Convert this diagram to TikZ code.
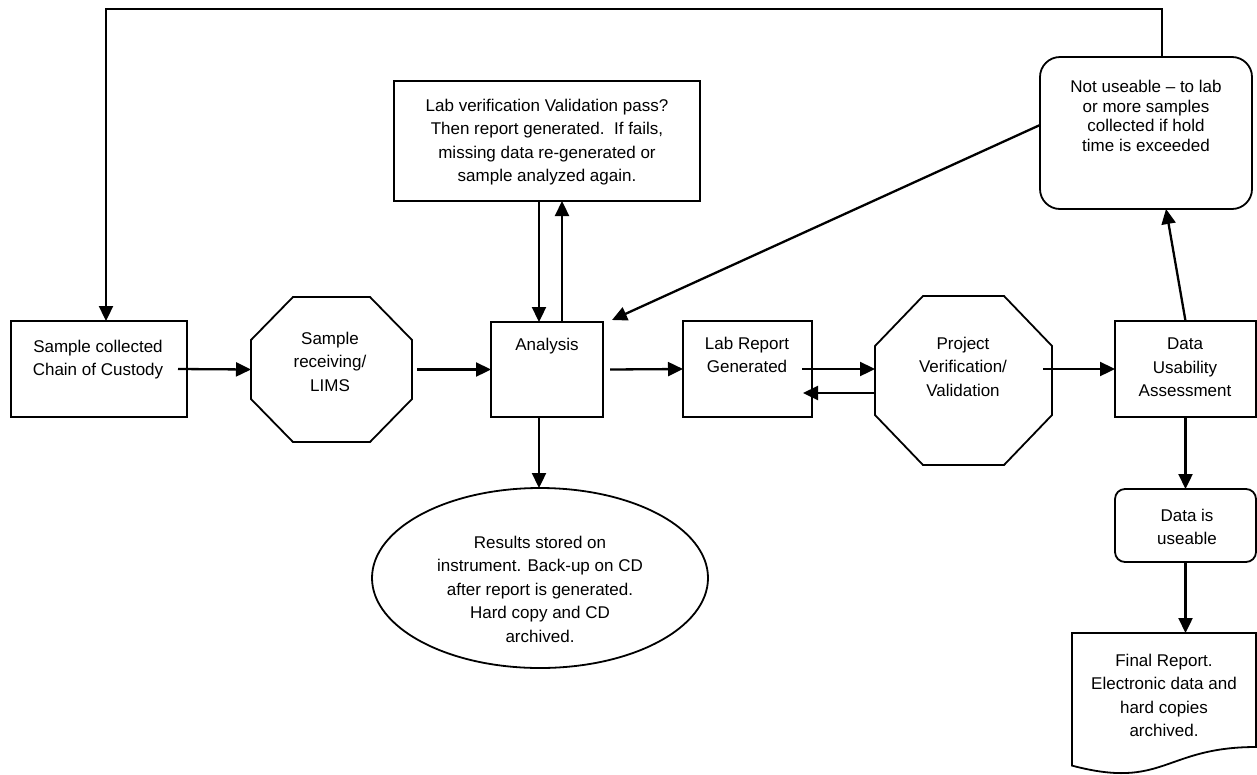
\documentclass[tikz,border=0pt]{standalone}
\usepackage{fontspec}
\setmainfont{Liberation Sans}
\usetikzlibrary{arrows.meta,shapes.geometric}
\begin{document}
\begin{tikzpicture}[x=1pt,y=-1pt,
  shp/.style 2 args={inner sep=0pt, outer sep=0pt, minimum width=#1, minimum height=#2},
  boxline/.style={draw, line width=1.8pt},
  arr/.style={line width=2.3pt, -{Triangle[length=15pt,width=14pt]}},
  txt/.style={font=\fontsize{17}{23.4}\selectfont, align=center, inner sep=0pt, anchor=north},
  txtn/.style={font=\fontsize{17}{19.5}\selectfont, align=center, inner sep=0pt, anchor=north}
]
\useasboundingbox (0,0) rectangle (1257,774);

% Sample collected
\node[shp={176}{96}, boxline] (A) at (99,369) {};
\node[txt] (At) at (98,340) {Sample collected\\Chain of Custody};

% Octagon: Sample receiving
\node[shp={161}{145}] (B) at (331.5,369.5) {};
\draw[boxline] ([xshift=42pt]B.north west) -- ([xshift=-42pt]B.north east) -- ([yshift=-43pt]B.north east)
  -- ([yshift=43pt]B.south east) -- ([xshift=-42pt]B.south east) -- ([xshift=42pt]B.south west)
  -- ([yshift=43pt]B.south west) -- ([yshift=-43pt]B.north west) -- cycle;
\node[txt] (Bt) at (330,332) {Sample\\receiving/\\LIMS};

% Analysis
\node[shp={112}{95}, boxline] (C) at (547,369.5) {};
\node[txt] (Ct) at (547,338) {Analysis};

% Lab verification box
\node[shp={306}{120}, boxline] (T) at (547,141) {};
\node[txt] (Tt) at (547,99) {Lab verification Validation pass?\\Then report generated.\ \ If fails,\\missing data re-generated or\\sample analyzed again.};

% Results ellipse
\node[shp={336}{180}, ellipse, boxline] (R) at (540,578) {};
\node[txt] (Rt) at (540,536) {Results stored on\\instrument. Back-up on CD\\after report is generated.\\Hard copy and CD\\archived.};

% Lab Report Generated
\node[shp={129}{96}, boxline] (D) at (747.5,369) {};
\node[txt] (Dt) at (747,337) {Lab Report\\Generated};

% Octagon: Project verification
\node[shp={177}{169}] (E) at (963.5,380.5) {};
\draw[boxline] ([xshift=48pt]E.north west) -- ([xshift=-48pt]E.north east) -- ([yshift=-50pt]E.north east)
  -- ([yshift=50pt]E.south east) -- ([xshift=-48pt]E.south east) -- ([xshift=48pt]E.south west)
  -- ([yshift=50pt]E.south west) -- ([yshift=-50pt]E.north west) -- cycle;
\node[txt] (Et) at (963,337) {Project\\Verification/\\Validation};

% Data Usability Assessment
\node[shp={141}{96}, boxline] (F) at (1185.5,369) {};
\node[txt] (Ft) at (1185,338) {Data\\Usability\\Assessment};

% Data is useable
\node[shp={141}{73}, boxline, rounded corners=10pt] (G) at (1185.5,525.5) {};
\node[txt] (Gt) at (1187,509) {Data is\\useable};

% Not useable
\node[shp={212}{152}, boxline, rounded corners=20pt] (N) at (1146,133) {};
\node[txtn] (Nt) at (1146,80) {Not useable – to lab\\or more samples\\collected if hold\\time is exceeded};

% Final report document
\node[shp={184}{142}] (H) at (1164,704) {};
\draw[boxline] (1072,633) -- (1256,633) -- (1256,747) .. controls (1164,747) and (1164,790) .. (1072,765.6) -- cycle;
\node[txt] (Ht) at (1164,654) {Final Report.\\Electronic data and\\hard copies\\archived.};

% Connectors
\draw[arr] ([xshift=-9pt]A.east) -- (B.west);
\draw[arr] ([xshift=5pt]B.east) -- (C.west);
\draw[arr] ([xshift=7pt]C.east) -- (D.west);
\coordinate (Dout) at ([xshift=-10pt]D.east);
\draw[arr] (Dout) -- (Dout -| E.west);
\coordinate (Eback) at ([yshift=-12.5pt]E.west);
\coordinate (Din) at ([xshift=-9pt]D.east);
\draw[arr] (Eback) -- (Eback -| Din);
\coordinate (Eout) at ([xshift=-9pt]E.east);
\draw[arr] (Eout |- F.west) -- (F.west);
\draw[arr] (F.north) -- ([xshift=20pt]N.south);
\draw[arr] ([yshift=8pt]N.west) -- ([xshift=9pt,yshift=2pt]C.north east);
\coordinate (Nout) at ([xshift=16pt]N.north);
\coordinate (Ain) at ([xshift=7pt]A.north);
\coordinate (top) at (0,9);
\draw[arr] (Nout) |- (top -| Ain) -- (Ain);
\coordinate (Cdn) at ([xshift=-8pt]C.north);
\coordinate (Cup) at ([xshift=15pt]C.north);
\draw[arr] (Cdn |- T.south) -- (Cdn);
\draw[arr] (Cup) -- (Cup |- T.south);
\coordinate (Cs) at ([xshift=-8pt]C.south);
\draw[arr] (Cs) -- (Cs |- R.north);
\draw[arr] (F.south) -- (G.north);
\draw[arr] (G.south) -- (G.south |- H.north);
\end{tikzpicture}
\end{document}
